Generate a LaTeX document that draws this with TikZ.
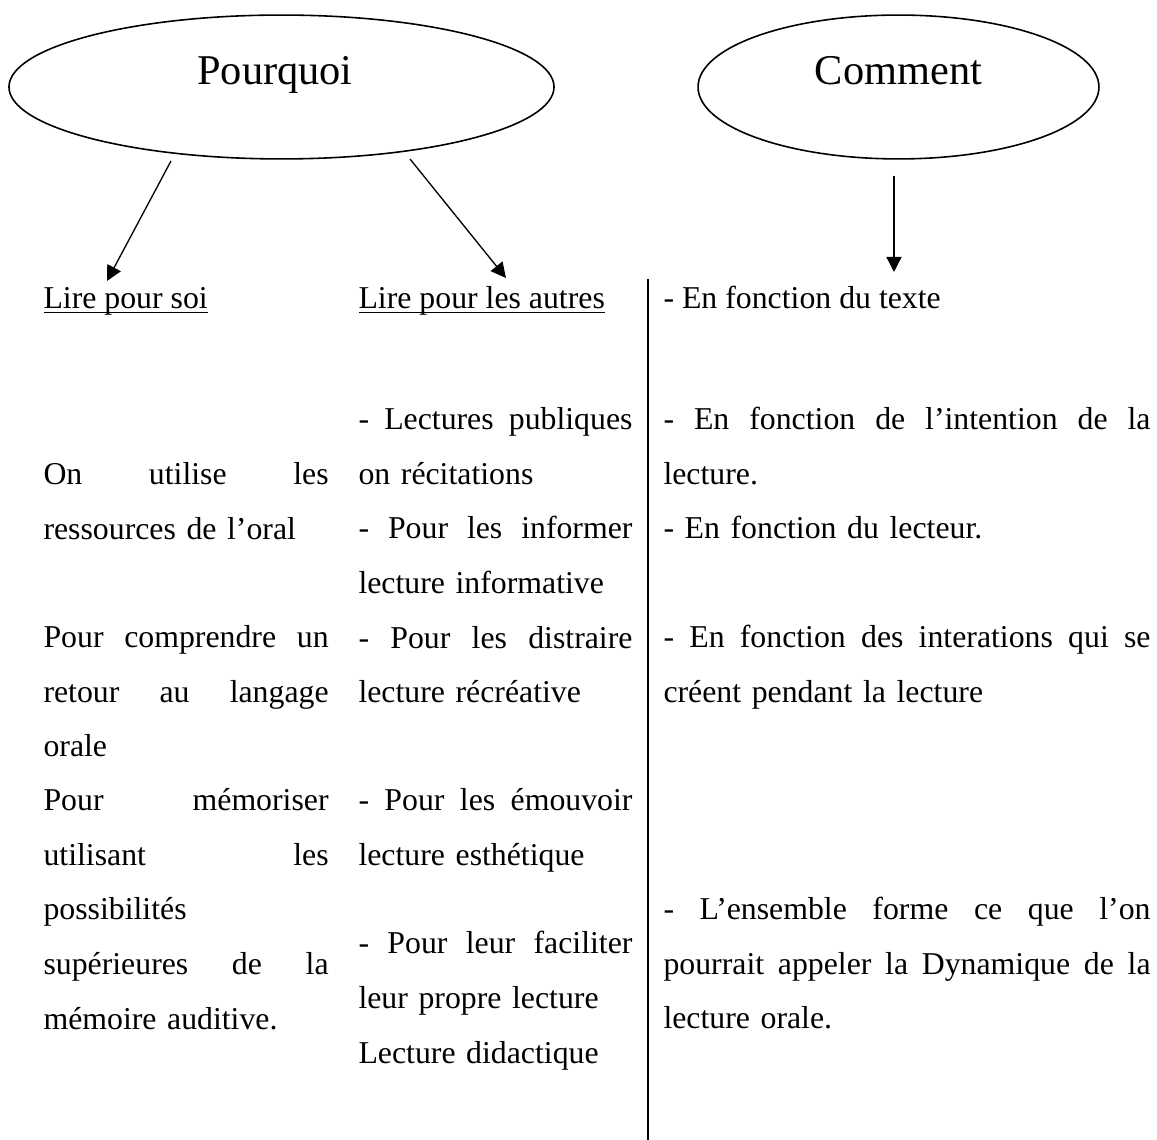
\documentclass[tikz,border=0pt]{standalone}
\usepackage{fontspec}
\setmainfont{Liberation Serif}
\usetikzlibrary{shapes.geometric,arrows.meta}
\newcommand\jl[1]{\noindent\hbox to \hsize{\spaceskip=\fontdimen2\font plus 1fil\relax #1}}
\newcommand\souligne[1]{\sbox0{#1}\rlap{\rule[-1.6pt]{\wd0}{0.5pt}}\usebox0}

\begin{document}
\begin{tikzpicture}[x=0.3774pt,y=-0.3774pt,
        bulle/.style={ellipse,draw,line width=0.6pt,minimum height=54.3pt,inner sep=0pt},
        titre/.style={anchor=base,inner sep=0pt,font=\fontsize{16}{19}\selectfont},
        texte/.style={anchor=base west,inner sep=0pt,align=left,font=\fontsize{12}{20.57}\selectfont},
        col1/.style={texte,text width=107.6pt},
        col2/.style={texte,text width=103.4pt},
        col3/.style={texte,text width=183.8pt},
        fleche/.style={-{Triangle[length=5.7pt,width=5.7pt]},line width=0.5pt}]

    \useasboundingbox (0,0) rectangle (1157,1140);

    \node[bulle,minimum width=205.7pt] (pourquoi) at (281.5,87) {};
    \node[titre] (tpourquoi) at (275,85) {Pourquoi};
    \node[bulle,minimum width=151.3pt] (comment) at (898.5,87) {};
    \node[titre] (tcomment) at (898.5,85) {Comment};

    \node[texte] (soi) at (43,309) {\souligne{Lire pour soi}};
    \node[texte] (autres) at (358,309) {\souligne{Lire pour les autres}};
    \node[texte] (texte) at (663,309) {- En fonction du texte};

    \coordinate (d1) at (171,161);
    \coordinate (a1) at (107,281);
    \coordinate (d2) at (410,159);
    \coordinate (a2) at (506,278);
    \coordinate (d3) at (894,176);
    \coordinate (a3) at (894,272);
    \path[fleche]
    (d1) edge (a1)
    (d2) edge (a2)
    (d3) edge (a3);

    \coordinate (sephaut) at (648,279);
    \coordinate (sepbas) at (648,1140);
    \draw[line width=0.8pt] (sephaut) -- (sepbas);

    \node[col1] (oral) at (43,485) {\jl{On utilise les}\\ ressources de l’oral};
    \node[col1] (comprendre) at (43,648) {\jl{Pour comprendre un}\\ \jl{retour au langage}\\ orale};
    \node[col1] (memoriser) at (43,811) {\jl{Pour mémoriser}\\ \jl{utilisant les}\\ possibilités\\ \jl{supérieures de la}\\ mémoire auditive.};

    \node[col2] (publiques) at (358,430) {\jl{- Lectures publiques}\\ on récitations\\ \jl{- Pour les informer}\\ lecture informative\\ \jl{- Pour les distraire}\\ lecture récréative};
    \node[col2] (emouvoir) at (358,811) {\jl{- Pour les émouvoir}\\ lecture esthétique};
    \node[col2] (faciliter) at (358,954) {\jl{- Pour leur faciliter}\\ leur propre lecture\\ Lecture didactique};

    \node[col3] (intention) at (663,430) {\jl{- En fonction de l’intention de la}\\ lecture.\\ - En fonction du lecteur.};
    \node[col3] (interations) at (663,648) {\jl{- En fonction des interations qui se}\\ créent pendant la lecture};
    \node[col3] (ensemble) at (663,920) {\jl{- L’ensemble forme ce que l’on}\\ \jl{pourrait appeler la Dynamique de la}\\ lecture orale.};

\end{tikzpicture}
\end{document}
